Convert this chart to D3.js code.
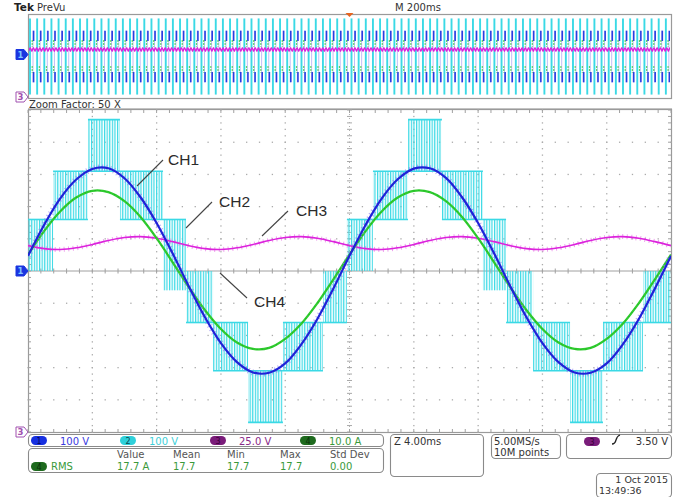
<!DOCTYPE html>
<html>
<head>
<meta charset="utf-8">
<script src="https://cdn.jsdelivr.net/npm/d3@7"></script>
<style>
  html, body { margin: 0; padding: 0; background: #fff; }
  svg { display: block; font-family: "DejaVu Sans", sans-serif; }
</style>
</head>
<body>
<svg id="scope" width="692" height="497"></svg>
<script>
// ---------------- acquisition data (zoom window, 1 ms per sample) ----------------
const sampleStepMs = 1;

// CH1 – output voltage (V)
const ch1Volts = [
  47, 143, 225, 284, 317, 319, 288, 229, 149, 54,
  -47, -143, -224, -283, -315, -316, -287, -228, -149, -54,
  47, 143, 225, 285, 318, 319, 289, 229, 149, 54,
  -47, -143, -224, -283, -315, -316, -287, -228, -149, -54,
  47
];

// CH4 – load current (A)
const ch4Amps = [
  5.1, 12.4, 18.5, 22.8, 24.9, 24.5, 21.7, 16.8, 10.2, 2.7,
  -5.0, -12.1, -18.0, -22.2, -24.2, -23.9, -21.1, -16.4, -10.0, -2.6,
  5.1, 12.4, 18.5, 22.8, 24.9, 24.5, 21.7, 16.8, 10.2, 2.7,
  -5.0, -12.1, -18.0, -22.2, -24.2, -23.9, -21.1, -16.4, -10.0, -2.6,
  5.1
];

// CH3 – DC link voltage with 100 Hz ripple (V)
const ch3Volts = [
  144.7, 142.4, 141.7, 143.0, 145.6, 148.7, 151.0, 151.7, 150.4, 147.8,
  144.7, 142.4, 141.7, 143.0, 145.6, 148.7, 151.0, 151.7, 150.4, 147.8,
  144.7, 142.4, 141.7, 143.0, 145.6, 148.7, 151.0, 151.7, 150.4, 147.8,
  144.7, 142.4, 141.7, 143.0, 145.6, 148.7, 151.0, 151.7, 150.4, 147.8,
  144.7
];

// CH2 – multilevel PWM output: [start ms, end ms, lower level V, upper level V]
const ch2Bands = [
  [0.00, 1.56, 0, 160],
  [1.56, 3.73, 160, 310],
  [3.73, 5.72, 310, 470],
  [5.72, 8.40, 160, 310],
  [8.40, 9.83, -60, 160],
  [9.83, 11.51, -160, 0],
  [11.51, 13.69, -310, -160],
  [13.69, 15.86, -470, -310],
  [15.86, 18.35, -310, -160],
  [18.35, 19.84, -160, 0],
  [19.84, 21.46, 0, 160],
  [21.46, 23.64, 160, 310],
  [23.64, 25.75, 310, 470],
  [25.75, 28.30, 160, 310],
  [28.30, 29.74, -60, 160],
  [29.74, 31.42, -160, 0],
  [31.42, 33.72, -310, -160],
  [33.72, 35.77, -470, -310],
  [35.77, 38.26, -310, -160],
  [38.26, 40.00, -160, 0]
];
// switching levels of the PWM output (V)
const ch2Levels = [-470, -310, -160, 160, 310, 470];

// vertical settings per channel
const channelIds = ["1", "2", "3", "4"];
const channelScaleText = ["100 V", "100 V", "25.0 V", "10.0 A"];
const unitsPerDiv = [100, 100, 25, 10];
const offsetDiv = [0, 0, -5, 0];

// horizontal settings
const zoomSpanMs = 40;       // 4 ms/div x 10
const recordSpanMs = 2000;   // 200 ms/div x 10
const overviewBursts = 90;

// readouts
const measHeaders = ["Value", "Mean", "Min", "Max", "Std Dev"];
const measValues = ["17.7 A", "17.7", "17.7", "17.7", "0.00"];
const measLabel = "RMS";
const zoomReadout = "Z 4.00ms";
const rateReadout = ["5.00MS/s", "10M points"];
const triggerLevel = "3.50 V";
const dateReadout = ["1 Oct  2015", "13:49:36"];

// annotation labels: [text, text x, text y, leader x1, y1, x2, y2]
const annotations = [
  ["CH1", 168, 165, 163, 160, 137, 186],
  ["CH2", 219, 207, 212, 202, 186, 228],
  ["CH3", 296, 216, 288, 211, 262, 236],
  ["CH4", 254, 307, 220, 273, 247, 298]
];

// ---------------- colours ----------------
const C = {
  ch1: "#1f22d8", ch1Fuzz: "#8c7cf0",
  ch2: "#3ad9e5",
  ch3: "#dc22dc", ch3Fuzz: "#e77ae7",
  ch4: "#2fcc2f",
  grid: "#ababab", frame: "#9a9a9a"
};

// ---------------- layout ----------------
const svg = d3.select("#scope");
const P = { l: 28, r: 671, t: 110, b: 432 };
const O = { l: 28, r: 671, t: 14, b: 98 };

const x = d3.scaleLinear().domain([0, zoomSpanMs]).range([P.l, P.r]);
const yDiv = d3.scaleLinear().domain([-5, 5]).range([P.b, P.t]);
const chY = (ch, v) => yDiv(v / unitsPerDiv[ch] + offsetDiv[ch]);

const xo = d3.scaleLinear().domain([0, recordSpanMs]).range([O.l, O.r]);
const yoDiv = d3.scaleLinear().domain([-5, 5]).range([O.b - 1, O.t + 2]);
const chYo = (ch, v) => yoDiv(v / unitsPerDiv[ch] + offsetDiv[ch]);

const defs = svg.append("defs");
defs.append("pattern").attr("id", "pwm").attr("patternUnits", "userSpaceOnUse")
  .attr("width", 2.6).attr("height", 8)
  .append("rect").attr("width", 1.2).attr("height", 8).attr("fill", C.ch2);
defs.append("clipPath").attr("id", "plotClip")
  .append("rect").attr("x", P.l).attr("y", P.t).attr("width", P.r - P.l).attr("height", P.b - P.t);
defs.append("clipPath").attr("id", "ovClip")
  .append("rect").attr("x", O.l + 1).attr("y", O.t + 1).attr("width", O.r - O.l - 2).attr("height", O.b - O.t - 2);

// ---------------- header ----------------
svg.append("text").attr("x", 14).attr("y", 11).attr("font-size", 10.5).attr("font-weight", "bold")
  .attr("fill", "#222").text("Tek");
svg.append("text").attr("x", 37).attr("y", 11).attr("font-size", 10).attr("fill", "#333").text("PreVu");
svg.append("text").attr("x", 395).attr("y", 11).attr("font-size", 10).attr("fill", "#333").text("M 200ms");

// ---------------- overview strip ----------------
svg.append("rect").attr("x", O.l + 0.5).attr("y", O.t + 0.5).attr("width", O.r - O.l).attr("height", O.b - O.t)
  .attr("fill", "#fff").attr("stroke", C.frame).attr("stroke-width", 1.2);

const ov = svg.append("g").attr("clip-path", "url(#ovClip)");
const ch1Peak = d3.max(ch1Volts), ch4Peak = d3.max(ch4Amps);
const ch2Top = d3.max(ch2Bands, d => d[3]), ch2Bot = d3.min(ch2Bands, d => d[2]);
const burstStep = (O.r - O.l) / overviewBursts;
const bursts = d3.range(overviewBursts).map(k => O.l + 2 + k * burstStep);

ov.selectAll("line.ovc2").data(bursts).join("line").attr("class", "ovc2")
  .attr("x1", d => d).attr("x2", d => d)
  .attr("y1", chYo(1, ch2Top)).attr("y2", chYo(1, ch2Bot))
  .attr("stroke", C.ch2).attr("stroke-width", 1.9);
ov.selectAll("line.ovlav").data(bursts).join("line").attr("class", "ovlav")
  .attr("x1", d => d + 3).attr("x2", d => d + 3)
  .attr("y1", chYo(0, ch1Peak)).attr("y2", chYo(0, -ch1Peak))
  .attr("stroke", "#c3bdf6").attr("stroke-width", 1);
[[1.0, 0.6], [-0.6, -1.0]].forEach(([a, b], i) => {
  ov.selectAll("line.ovc1_" + i).data(bursts).join("line").attr("class", "ovc1_" + i)
    .attr("x1", d => d + 3.6).attr("x2", d => d + 3.6)
    .attr("y1", chYo(0, ch1Peak * a)).attr("y2", chYo(0, ch1Peak * b))
    .attr("stroke", "#2a3ce0").attr("stroke-width", 1.6);
  ov.selectAll("line.ovc4_" + i).data(bursts).join("line").attr("class", "ovc4_" + i)
    .attr("x1", d => d + 2.2).attr("x2", d => d + 2.2)
    .attr("y1", chYo(3, ch4Peak * a * 0.8)).attr("y2", chYo(3, ch4Peak * b * 0.8))
    .attr("stroke", C.ch4).attr("stroke-width", 1.2).attr("stroke-dasharray", "1.5 1.5");
});
// CH3 in the record view: the measured ripple cycle laid over the whole record
const ch3Cycle = ch3Volts.slice(0, 10);
const ovCh3 = d3.range(0, recordSpanMs + 1, sampleStepMs).map(t => [t, ch3Cycle[t % ch3Cycle.length]]);
ov.append("path").datum(ovCh3)
  .attr("d", d3.line().x(d => xo(d[0])).y(d => chYo(2, d[1])))
  .attr("fill", "none").attr("stroke", C.ch3).attr("stroke-width", 1.3);

// trigger position marker
svg.append("path").attr("d", `M${xo(recordSpanMs / 2) - 4},${O.t - 1} h8 l-4,4 z`).attr("fill", "#e8641e");

// ---------------- zoom window ----------------
svg.append("text").attr("x", 29).attr("y", 107.5).attr("font-size", 10).attr("fill", "#333")
  .text("Zoom Factor: 50 X");
svg.append("line").attr("x1", P.l).attr("x2", P.r + 1).attr("y1", 108.5).attr("y2", 108.5)
  .attr("stroke", "#c8c8c8").attr("stroke-width", 1);

svg.append("rect").attr("x", P.l + 0.5).attr("y", P.t - 0.5).attr("width", P.r - P.l).attr("height", P.b - P.t + 1)
  .attr("fill", "#fff").attr("stroke", C.frame).attr("stroke-width", 1.2);

// graticule
const grid = svg.append("g");
const minorX = d3.range(0, 50.01, 1).map(i => x(i * zoomSpanMs / 50));
const minorY = d3.range(-5, 5.001, 0.2);
const majorX = d3.range(1, 10).map(i => x(i * zoomSpanMs / 10));
const majorY = d3.range(-4, 5).filter(v => v !== 0);

majorX.filter((_, i) => i !== 4).forEach(gx => {
  grid.selectAll(null).data(minorY).join("rect")
    .attr("x", gx - 0.6).attr("y", d => yDiv(d) - 0.6).attr("width", 1.3).attr("height", 1.3)
    .attr("fill", C.grid);
});
majorY.forEach(gv => {
  grid.selectAll(null).data(minorX).join("rect")
    .attr("x", d => d - 0.6).attr("y", yDiv(gv) - 0.6).attr("width", 1.3).attr("height", 1.3)
    .attr("fill", C.grid);
});
// centre cross with ticks
grid.append("line").attr("x1", P.l).attr("x2", P.r).attr("y1", yDiv(0)).attr("y2", yDiv(0))
  .attr("stroke", "#a0a0a0").attr("stroke-width", 1);
grid.selectAll(null).data(minorX).join("line")
  .attr("x1", d => d).attr("x2", d => d).attr("y1", yDiv(0) - 2.5).attr("y2", yDiv(0) + 2.5)
  .attr("stroke", "#a0a0a0").attr("stroke-width", 1);
const cx = x(zoomSpanMs / 2);
grid.selectAll(null).data(minorY).join("line")
  .attr("x1", cx - 2.5).attr("x2", cx + 2.5).attr("y1", d => yDiv(d)).attr("y2", d => yDiv(d))
  .attr("stroke", "#a8a8a8").attr("stroke-width", 1);
grid.append("line").attr("x1", cx).attr("x2", cx).attr("y1", P.t).attr("y2", P.b)
  .attr("stroke", "#b0b0b0").attr("stroke-width", 1).attr("stroke-dasharray", "1 3");
// frame ticks
grid.selectAll(null).data(minorY).join("line")
  .attr("x1", P.l).attr("x2", P.l + 3).attr("y1", d => yDiv(d)).attr("y2", d => yDiv(d))
  .attr("stroke", "#a0a0a0");
grid.selectAll(null).data(minorY).join("line")
  .attr("x1", P.r - 3).attr("x2", P.r).attr("y1", d => yDiv(d)).attr("y2", d => yDiv(d))
  .attr("stroke", "#a0a0a0");
grid.selectAll(null).data(minorX).join("line")
  .attr("x1", d => d).attr("x2", d => d).attr("y1", P.t).attr("y2", P.t + 3).attr("stroke", "#a0a0a0");
grid.selectAll(null).data(minorX).join("line")
  .attr("x1", d => d).attr("x2", d => d).attr("y1", P.b - 3).attr("y2", P.b).attr("stroke", "#a0a0a0");

// waveforms
const traces = svg.append("g").attr("clip-path", "url(#plotClip)");

// CH2 PWM bands
traces.selectAll("rect.band").data(ch2Bands).join("rect").attr("class", "band")
  .attr("x", d => x(d[0])).attr("width", d => x(d[1]) - x(d[0]))
  .attr("y", d => chY(1, d[3])).attr("height", d => chY(1, d[2]) - chY(1, d[3]))
  .attr("fill", "url(#pwm)");
const bandEdges = ch2Bands.flatMap(d => [[d[0], d[1], d[2]], [d[0], d[1], d[3]]])
  .filter(e => ch2Levels.includes(e[2]));
traces.selectAll("line.edge").data(bandEdges).join("line").attr("class", "edge")
  .attr("x1", d => x(d[0])).attr("x2", d => x(d[1]))
  .attr("y1", d => chY(1, d[2])).attr("y2", d => chY(1, d[2]))
  .attr("stroke", C.ch2).attr("stroke-width", 1.6);

const series = vals => vals.map((v, i) => [i * sampleStepMs, v]);
const lineFor = ch => d3.line().curve(d3.curveCatmullRom).x(d => x(d[0])).y(d => chY(ch, d[1]));

// CH3
traces.append("path").datum(series(ch3Volts)).attr("d", lineFor(2))
  .attr("fill", "none").attr("stroke", C.ch3Fuzz).attr("stroke-width", 5)
  .attr("stroke-dasharray", "1 3.5").attr("opacity", 0.7);
traces.append("path").datum(series(ch3Volts)).attr("d", lineFor(2))
  .attr("fill", "none").attr("stroke", C.ch3).attr("stroke-width", 1.6);

// CH4
traces.append("path").datum(series(ch4Amps)).attr("d", lineFor(3))
  .attr("fill", "none").attr("stroke", C.ch4).attr("stroke-width", 2.3);
traces.append("path").datum(series(ch4Amps)).attr("d", lineFor(3))
  .attr("fill", "none").attr("stroke", "#1c9a1c").attr("stroke-width", 1)
  .attr("stroke-dasharray", "1 4").attr("opacity", 0.7);

// CH1
traces.append("path").datum(series(ch1Volts)).attr("d", lineFor(0))
  .attr("fill", "none").attr("stroke", C.ch1Fuzz).attr("stroke-width", 6)
  .attr("stroke-dasharray", "1 3").attr("opacity", 0.65);
traces.append("path").datum(series(ch1Volts)).attr("d", lineFor(0))
  .attr("fill", "none").attr("stroke", C.ch1).attr("stroke-width", 2.2);

// annotations
annotations.forEach(([t, tx, ty, x1, y1, x2, y2]) => {
  svg.append("line").attr("x1", x1).attr("y1", y1).attr("x2", x2).attr("y2", y2)
    .attr("stroke", "#444").attr("stroke-width", 1.1);
  svg.append("text").attr("x", tx).attr("y", ty).attr("font-family", "Liberation Sans, Arial, sans-serif")
    .attr("font-size", 15.5).attr("fill", "#2b2b2b").text(t);
});

// ---------------- channel reference markers ----------------
function marker(y, id, filled, color) {
  const g = svg.append("g");
  g.append("path").attr("d", `M16,${y - 5} h8 l4,5 l-4,5 h-8 z`)
    .attr("fill", filled ? color : "#fff").attr("stroke", color).attr("stroke-width", 1);
  g.append("text").attr("x", 20.5).attr("y", y + 3.3).attr("text-anchor", "middle").attr("font-size", 8.5)
    .attr("font-weight", "bold").attr("fill", filled ? "#7fc4ff" : color).text(id);
}
marker(chYo(0, 0) - 2, "1", true, "#1a35e0");
marker(O.b - 1, "3", false, "#a050b0");
marker(chY(0, 0), "1", true, "#1a35e0");
marker(chY(2, 0), "3", false, "#a050b0");

// ---------------- readouts ----------------
const rr = (x0, y0, w, h) => svg.append("rect").attr("x", x0 + 0.5).attr("y", y0 + 0.5).attr("width", w).attr("height", h)
  .attr("rx", 4).attr("fill", "#fff").attr("stroke", "#8a8a8a").attr("stroke-width", 1.1);
const txt = (x0, y0, s, color, anchor, size) => svg.append("text").attr("x", x0).attr("y", y0)
  .attr("font-size", size || 10).attr("fill", color).attr("text-anchor", anchor || "start").text(s);
const pill = (x0, y0, fill, id, tc) => {
  svg.append("rect").attr("x", x0).attr("y", y0).attr("width", 16).attr("height", 9).attr("rx", 4.5).attr("fill", fill);
  svg.append("text").attr("x", x0 + 8).attr("y", y0 + 7.5).attr("text-anchor", "middle").attr("font-size", 8)
    .attr("fill", tc).text(id);
};

// channel scale bar
rr(28, 434, 355, 12);
const pillFill = ["#1730e0", "#2fd0da", "#7a1c7a", "#1e6a1e"];
const pillText = ["#0a0a60", "#0a4a50", "#3a003a", "#0a300a"];
const scaleColor = ["#3a3ae0", "#3fcfd8", "#8a2a8a", "#3a9a3a"];
const pillX = [31, 120, 210, 300];
channelIds.forEach((id, i) => {
  pill(pillX[i], 436, pillFill[i], id, pillText[i]);
  txt(pillX[i] + 29, 444.5, channelScaleText[i], scaleColor[i]);
});

// measurement box
rr(28, 448, 355, 24);
const measX = [117, 173, 227, 280, 330];
measHeaders.forEach((h, i) => txt(measX[i], 458, h, "#555"));
pill(31, 462, pillFill[3], "4", pillText[3]);
txt(51, 469.5, measLabel, "#3a9a3a");
measValues.forEach((v, i) => txt(measX[i], 469.5, v, "#3a9a3a"));

// horizontal / acquisition / trigger
rr(390, 434, 93, 42);
txt(394, 444.5, zoomReadout, "#333");
rr(491, 434, 69, 24);
txt(494, 444.5, rateReadout[0], "#333");
txt(494, 455.5, rateReadout[1], "#333");
rr(566, 434, 105, 24);
pill(584, 437, "#7a1c7a", "3", "#3a003a");
svg.append("path").attr("d", "M612,444 q3,0 4,-4 t4,-5").attr("fill", "none").attr("stroke", "#222").attr("stroke-width", 1.3);
txt(668, 444.5, triggerLevel, "#333", "end");

// date
rr(596, 473, 75, 24);
txt(668, 483, dateReadout[0], "#333", "end", 9.5);
txt(599, 494, dateReadout[1], "#333", "start", 9.5);
</script>
</body>
</html>
